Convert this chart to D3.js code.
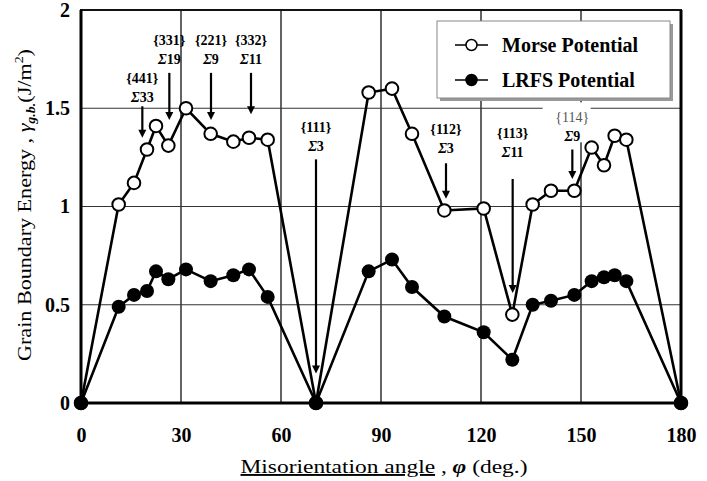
<!DOCTYPE html>
<html>
<head>
<meta charset="utf-8">
<script src="https://cdn.jsdelivr.net/npm/d3@7/dist/d3.min.js"></script>
<style>
    body { margin: 0; background: #fff; }
    svg text { font-family: "Liberation Serif", "Times New Roman", "DejaVu Serif", serif; }
</style>
</head>
<body>
<div id="chart"></div>
<script>
// Misorientation angles (deg.) shared by both series
const angles = [0, 11.3, 15.9, 19.8, 22.5, 26.2, 31.5, 38.9, 45.7, 50.4, 56.0, 70.5,
    86.3, 93.3, 99.3, 109.0, 120.8, 129.4, 135.5, 141.0, 148.0, 153.2, 156.9, 160.1, 163.6, 180];

// Grain boundary energy (J/m^2)
const morse = [0, 1.01, 1.12, 1.29, 1.41, 1.31, 1.50, 1.37, 1.33, 1.35, 1.34, 0,
    1.58, 1.60, 1.37, 0.98, 0.99, 0.45, 1.01, 1.08, 1.08, 1.30, 1.21, 1.36, 1.34, 0];
const lrfs  = [0, 0.49, 0.55, 0.57, 0.67, 0.63, 0.68, 0.62, 0.65, 0.68, 0.54, 0,
    0.67, 0.73, 0.59, 0.44, 0.36, 0.22, 0.50, 0.52, 0.55, 0.62, 0.64, 0.65, 0.62, 0];

const seriesNames = ["Morse Potential", "LRFS Potential"];
const xTicks = [0, 30, 60, 90, 120, 150, 180];
const yTicks = [0, 0.5, 1, 1.5, 2];

// Boundary labels: plane, sigma, angle, text level, arrow from / to (energy units)
const boundaries = [
    { plane: "{441}", sigma: "33", angle: 18.4, text: 1.63, from: 1.51, to: 1.35 },
    { plane: "{331}", sigma: "19", angle: 26.5, text: 1.82, from: 1.68, to: 1.44 },
    { plane: "{221}", sigma: "9",  angle: 39.0, text: 1.82, from: 1.68, to: 1.44 },
    { plane: "{332}", sigma: "11", angle: 51.0, text: 1.82, from: 1.68, to: 1.47 },
    { plane: "{111}", sigma: "3",  angle: 70.5, text: 1.38, from: 1.24, to: 0.15 },
    { plane: "{112}", sigma: "3",  angle: 109.5, text: 1.37, from: 1.22, to: 1.04 },
    { plane: "{113}", sigma: "11", angle: 129.5, text: 1.35, from: 1.14, to: 0.56 },
    { plane: "{114}", sigma: "9",  angle: 147.4, text: 1.43, from: 1.29, to: 1.14, faint: true }
];

const width  = 707;
const height = 481;
const margin = { top: 10, right: 26, bottom: 78, left: 81 };

const svg = d3.select("#chart")
    .append("svg")
    .attr("width", width)
    .attr("height", height);

const x = d3.scaleLinear().domain([0, 180]).range([margin.left, width - margin.right]);
const y = d3.scaleLinear().domain([0, 2]).range([height - margin.bottom, margin.top]);

// Grid lines
svg.append("g")
    .selectAll("line")
    .data(xTicks.slice(1, -1))
    .join("line")
    .attr("x1", (d) => x(d)).attr("x2", (d) => x(d))
    .attr("y1", y(0)).attr("y2", y(2))
    .attr("stroke", "#222").attr("stroke-width", 1.4);

svg.append("g")
    .selectAll("line")
    .data(yTicks.slice(1, -1))
    .join("line")
    .attr("x1", x(0)).attr("x2", x(180))
    .attr("y1", (d) => y(d)).attr("y2", (d) => y(d))
    .attr("stroke", "#333").attr("stroke-width", 1.2);

// White patch behind the {114} label
svg.append("rect")
    .attr("x", x(138.5)).attr("y", y(1.53))
    .attr("width", 48).attr("height", 40)
    .attr("fill", "#fff");

// Frame
svg.append("rect")
    .attr("x", x(0)).attr("y", y(2))
    .attr("width", x(180) - x(0)).attr("height", y(0) - y(2))
    .attr("fill", "none").attr("stroke", "#111").attr("stroke-width", 2);
svg.append("line")
    .attr("x1", x(0)).attr("x2", x(180)).attr("y1", y(0)).attr("y2", y(0))
    .attr("stroke", "#000").attr("stroke-width", 3);
svg.append("line")
    .attr("x1", x(0)).attr("x2", x(0)).attr("y1", y(0)).attr("y2", y(2))
    .attr("stroke", "#000").attr("stroke-width", 3);
svg.append("line")
    .attr("x1", x(180)).attr("x2", x(180)).attr("y1", y(0)).attr("y2", y(2))
    .attr("stroke", "#000").attr("stroke-width", 3);

// Axes tick labels
const xAxis = d3.axisBottom(x).tickValues(xTicks).tickSize(0).tickPadding(25);
svg.append("g")
    .attr("transform", `translate(0,${y(0)})`)
    .call(xAxis)
    .call((g) => g.select(".domain").remove())
    .selectAll("text")
    .attr("font-size", 20).attr("font-weight", "bold").attr("fill", "#000");

const yAxis = d3.axisLeft(y).tickValues(yTicks).tickSize(0).tickPadding(11).tickFormat((d) => String(d));
svg.append("g")
    .attr("transform", `translate(${x(0)},0)`)
    .call(yAxis)
    .call((g) => g.select(".domain").remove())
    .selectAll("text")
    .attr("font-size", 20).attr("font-weight", "bold").attr("fill", "#000");

// Axis titles
const xTitle = svg.append("text")
    .attr("x", 384).attr("y", 473)
    .attr("text-anchor", "middle")
    .attr("font-size", 19)
    .attr("textLength", 287)
    .attr("lengthAdjust", "spacingAndGlyphs");
xTitle.append("tspan").attr("text-decoration", "underline").text("Misorientation angle");
xTitle.append("tspan").text(" , ");
xTitle.append("tspan").attr("font-style", "italic").attr("font-weight", "bold").text("φ");
xTitle.append("tspan").text(" (deg.)");

const yTitle = svg.append("text")
    .attr("transform", "translate(31,205) rotate(-90)")
    .attr("text-anchor", "middle")
    .attr("font-size", 19)
    .attr("textLength", 312)
    .attr("lengthAdjust", "spacingAndGlyphs");
yTitle.append("tspan").text("Grain Boundary Energy , ");
yTitle.append("tspan").attr("font-style", "italic").text("γ");
yTitle.append("tspan").attr("font-size", 12).attr("font-style", "italic").attr("font-weight", "bold").attr("dy", 4).text("g.b.");
yTitle.append("tspan").attr("dy", -4).text("(J/m");
yTitle.append("tspan").attr("font-size", 12).attr("dy", -8).text("2");
yTitle.append("tspan").attr("dy", 8).text(")");

// Series
const line = d3.line().x((d) => x(d[0])).y((d) => y(d[1]));
const morseData = angles.map((a, i) => [a, morse[i]]);
const lrfsData  = angles.map((a, i) => [a, lrfs[i]]);

svg.append("path").datum(morseData).attr("d", line)
    .attr("fill", "none").attr("stroke", "#000").attr("stroke-width", 2.6);
svg.append("path").datum(lrfsData).attr("d", line)
    .attr("fill", "none").attr("stroke", "#000").attr("stroke-width", 2.6);

svg.append("g").selectAll("circle")
    .data(morseData)
    .join("circle")
    .attr("cx", (d) => x(d[0])).attr("cy", (d) => y(d[1])).attr("r", 6.3)
    .attr("fill", "#fff").attr("stroke", "#000").attr("stroke-width", 2);
svg.append("g").selectAll("circle")
    .data(lrfsData)
    .join("circle")
    .attr("cx", (d) => x(d[0])).attr("cy", (d) => y(d[1])).attr("r", 7)
    .attr("fill", "#000");

// Boundary annotations
const ann = svg.append("g").attr("font-size", 14).attr("text-anchor", "middle");
boundaries.forEach((b) => {
    const cx = x(b.angle);
    ann.append("text")
        .attr("x", cx).attr("y", y(b.text))
        .attr("fill", b.faint ? "#555" : "#000")
        .attr("font-weight", b.faint ? "normal" : "bold")
        .text(b.plane);
    const s = ann.append("text").attr("x", cx).attr("y", y(b.text) + 19).attr("font-weight", "bold");
    s.append("tspan").attr("font-style", "italic").text("Σ");
    s.append("tspan").text(b.sigma);
    ann.append("line")
        .attr("x1", cx).attr("x2", cx)
        .attr("y1", y(b.from)).attr("y2", y(b.to) - 6)
        .attr("stroke", "#000").attr("stroke-width", 2.2);
    ann.append("path")
        .attr("d", `M${cx - 4},${y(b.to) - 8}L${cx + 4},${y(b.to) - 8}L${cx},${y(b.to)}Z`)
        .attr("fill", "#000");
});

// Legend
const legend = svg.append("g").attr("transform", "translate(437,21)");
legend.append("rect").attr("x", 3).attr("y", 3).attr("width", 233).attr("height", 77).attr("fill", "#999");
legend.append("rect").attr("width", 233).attr("height", 77)
    .attr("fill", "#fff").attr("stroke", "#888").attr("stroke-width", 1);
seriesNames.forEach((name, i) => {
    const ly = 24 + i * 35;
    legend.append("line").attr("x1", 18).attr("x2", 51).attr("y1", ly).attr("y2", ly)
        .attr("stroke", "#000").attr("stroke-width", 1.5);
    legend.append("circle").attr("cx", 34.5).attr("cy", ly).attr("r", 5.5)
        .attr("fill", i === 0 ? "#fff" : "#000").attr("stroke", "#000").attr("stroke-width", 1.5);
    legend.append("text").attr("x", 65).attr("y", ly + 7)
        .attr("font-size", 20).attr("font-weight", "bold").text(name);
});
</script>
</body>
</html>
